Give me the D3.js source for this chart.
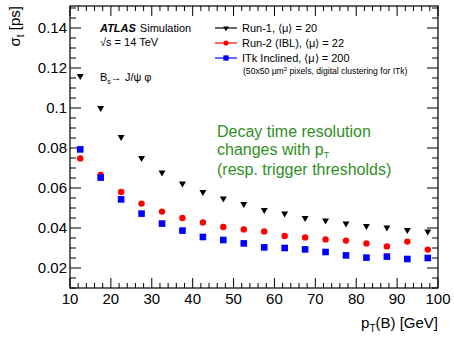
<!DOCTYPE html>
<html>
<head>
<meta charset="utf-8">
<script src="https://cdn.jsdelivr.net/npm/d3@7"></script>
<style>
  body { margin: 0; background: #fff; }
  svg { display: block; font-family: "Liberation Sans", Arial, sans-serif; }
</style>
</head>
<body>
<script>
// data
var ptBins = [12.5, 17.5, 22.5, 27.5, 32.5, 37.5, 42.5, 47.5, 52.5, 57.5, 62.5, 67.5, 72.5, 77.5, 82.5, 87.5, 92.5, 97.5];
var run1 = [0.116, 0.100, 0.0855, 0.075, 0.0677, 0.0623, 0.058, 0.0547, 0.052, 0.049, 0.0473, 0.045, 0.0437, 0.0423, 0.041, 0.0402, 0.039, 0.0382];
var run2 = [0.0748, 0.0665, 0.058, 0.0522, 0.0482, 0.045, 0.0428, 0.0405, 0.0393, 0.0383, 0.036, 0.0353, 0.0343, 0.0337, 0.0323, 0.0308, 0.0332, 0.0292];
var itk = [0.0793, 0.0652, 0.0543, 0.0472, 0.0422, 0.0387, 0.0355, 0.034, 0.0323, 0.0303, 0.030, 0.0293, 0.028, 0.0263, 0.0252, 0.0257, 0.0245, 0.025];
var xTickLabels = [10, 20, 30, 40, 50, 60, 70, 80, 90, 100];
var yTickLabels = [0.02, 0.04, 0.06, 0.08, 0.1, 0.12, 0.14];

var width = 454, height = 338;
var padL = 70, padR = 438, padT = 6, padB = 288;

var x = d3.scaleLinear().domain([10, 100]).range([padL, padR]);
var y = d3.scaleLinear().domain([0.01, 0.151]).range([padB, padT]);

var svg = d3.select("body").append("svg")
    .attr("width", width)
    .attr("height", height);

// frame
svg.append("rect")
    .attr("x", padL).attr("y", padT)
    .attr("width", padR - padL).attr("height", padB - padT)
    .attr("fill", "none").attr("stroke", "#000").attr("stroke-width", 1.2);

// ticks, drawn inward on all four sides (ROOT style)
var xMinor = d3.range(10, 100.01, 2);
var yMinor = d3.range(0.01, 0.1501, 0.005);
var ticks = svg.append("g").attr("stroke", "#000").attr("stroke-width", 1);

xMinor.forEach(function (v) {
    var major = Math.abs(v % 10) < 1e-6;
    var len = major ? 10 : 5;
    ticks.append("line").attr("x1", x(v)).attr("x2", x(v)).attr("y1", padB).attr("y2", padB - len);
    ticks.append("line").attr("x1", x(v)).attr("x2", x(v)).attr("y1", padT).attr("y2", padT + len);
});
yMinor.forEach(function (v) {
    var major = Math.abs(Math.round(v * 1000) % 20) === 0;
    var len = major ? 11 : 6;
    ticks.append("line").attr("y1", y(v)).attr("y2", y(v)).attr("x1", padL).attr("x2", padL + len);
    ticks.append("line").attr("y1", y(v)).attr("y2", y(v)).attr("x1", padR).attr("x2", padR - len);
});

// tick labels
svg.append("g").selectAll("text")
    .data(xTickLabels)
    .join("text")
    .attr("x", d => x(d))
    .attr("y", 304)
    .attr("text-anchor", "middle")
    .style("font-size", "15px")
    .text(d => d);

svg.append("g").selectAll("text")
    .data(yTickLabels)
    .join("text")
    .attr("x", 67)
    .attr("y", d => y(d) + 5)
    .attr("text-anchor", "end")
    .style("font-size", "15px")
    .text(d => d);

// axis titles
var xt = svg.append("text")
    .attr("x", padR).attr("y", 328)
    .attr("text-anchor", "end")
    .style("font-size", "15px");
xt.append("tspan").text("p");
xt.append("tspan").attr("dy", 4).style("font-size", "10px").text("T");
xt.append("tspan").attr("dy", -4).text("(B) [GeV]");

var yt = svg.append("text")
    .attr("transform", "translate(20,6) rotate(-90)")
    .attr("text-anchor", "end")
    .style("font-size", "15px");
yt.append("tspan").text("σ");
yt.append("tspan").attr("dy", 4).style("font-size", "10px").text("t");
yt.append("tspan").attr("dy", -4).text(" [ps]");

// ATLAS labels
var at = svg.append("text").attr("x", 100).attr("y", 32).style("font-size", "11px");
at.append("tspan").style("font-weight", "bold").style("font-style", "italic").text("ATLAS");
at.append("tspan").attr("dx", 4).text("Simulation");
svg.append("text").attr("x", 100).attr("y", 46).style("font-size", "11px").text("√s = 14 TeV");
var bs = svg.append("text").attr("x", 100).attr("y", 81).style("font-size", "11px");
bs.append("tspan").text("B");
bs.append("tspan").attr("dy", 3).style("font-size", "7px").text("s");
bs.append("tspan").attr("dy", -3).text("→ J/ψ φ");

// markers
var triangle = d3.symbol().type(d3.symbolTriangle).size(21);
var series = [
    { name: "Run-1, ⟨μ⟩ = 20", values: run1, color: "#000", shape: "tri" },
    { name: "Run-2 (IBL), ⟨μ⟩ = 22", values: run2, color: "#ff0000", shape: "circle" },
    { name: "ITk Inclined, ⟨μ⟩ = 200", values: itk, color: "#0000ff", shape: "square" }
];

function drawMarker(g, shape, color, cx, cy, k) {
    k = k || 1;
    if (shape === "tri") {
        g.append("path").attr("d", triangle)
            .attr("transform", "translate(" + cx + "," + cy + ") rotate(180) scale(" + k + ")")
            .attr("fill", color);
    } else if (shape === "circle") {
        g.append("circle").attr("cx", cx).attr("cy", cy).attr("r", 3.2 * k).attr("fill", color);
    } else {
        var h = 3.3 * k;
        g.append("rect").attr("x", cx - h).attr("y", cy - h).attr("width", 2 * h).attr("height", 2 * h).attr("fill", color);
    }
}

var marks = svg.append("g");
series.forEach(function (s) {
    s.values.forEach(function (v, i) {
        drawMarker(marks, s.shape, s.color, x(ptBins[i]), y(v));
    });
});

// legend
var legend = svg.append("g");
series.forEach(function (s, i) {
    var ly = 28 + i * 15;
    legend.append("line").attr("x1", 215).attr("x2", 237).attr("y1", ly).attr("y2", ly)
        .attr("stroke", s.color).attr("stroke-width", 1.2);
    drawMarker(legend, s.shape, s.color, 226, ly, 0.8);
    legend.append("text").attr("x", 242).attr("y", ly + 4).style("font-size", "11px").text(s.name);
});
var note = legend.append("text").attr("x", 243).attr("y", 74).style("font-size", "8.6px");
note.append("tspan").text("(50x50 μm");
note.append("tspan").attr("dy", -3).style("font-size", "6px").text("2");
note.append("tspan").attr("dy", 3).text(" pixels, digital clustering for ITk)");

// green annotation
var green = "#2f8f1f";
var ann = svg.append("g").style("font-size", "16px").attr("fill", green);
ann.append("text").attr("x", 217).attr("y", 137).text("Decay time resolution");
var l2 = ann.append("text").attr("x", 217).attr("y", 155);
l2.append("tspan").text("changes with p");
l2.append("tspan").attr("dy", 3).style("font-size", "9px").text("T");
ann.append("text").attr("x", 217).attr("y", 175).text("(resp. trigger thresholds)");
</script>
</body>
</html>
